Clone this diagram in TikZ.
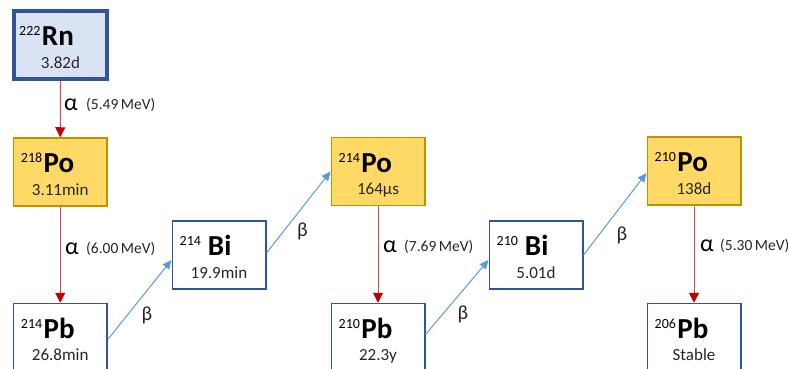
\documentclass[tikz,border=0pt]{standalone}
\usepackage{fontspec}
\setmainfont{Carlito}
\usetikzlibrary{arrows.meta}
\definecolor{boxblue}{HTML}{2F5597}
\definecolor{rnfill}{HTML}{DAE3F3}
\definecolor{pofill}{HTML}{FFD966}
\definecolor{poedge}{HTML}{BF9000}
\definecolor{alphared}{HTML}{C00000}
\definecolor{betablue}{HTML}{5B9BD5}
\tikzset{
  nuclide/.style={draw=boxblue, line width=1.5pt, fill=white, minimum width=93.5pt, minimum height=68pt, inner sep=0pt},
  parent/.style={nuclide, draw=boxblue, fill=rnfill, line width=4pt, minimum width=93pt, minimum height=67.5pt},
  polonium/.style={nuclide, draw=poedge, fill=pofill},
  sym/.style={font=\fontsize{29}{30}\selectfont\bfseries, inner sep=0pt, anchor=base west},
  life/.style={font=\fontsize{17}{18}\selectfont, inner sep=0pt, anchor=base, text=black!85},
  alphaarrow/.style={draw=alphared!70, line width=1pt, -{Triangle[length=10pt,width=10pt,fill=alphared,color=alphared]}},
  betaarrow/.style={draw=betablue, line width=1pt, -{Triangle[length=9pt,width=8pt]}},
  alab/.style={font=\fontsize{24}{26}\selectfont, inner sep=0pt, anchor=base west},
  elab/.style={font=\fontsize{15.5}{16}\selectfont, inner sep=0pt, anchor=base west, text=black!85},
  blab/.style={font=\fontsize{20}{22}\selectfont, inner sep=0pt, text=black!85}
}
% mass number set as a raised small label before the element symbol
\newcommand{\mass}[1]{\raisebox{9.8pt}{\normalfont\fontsize{14}{15}\selectfont #1}}
\begin{document}
\begin{tikzpicture}[x=1pt,y=-1pt]
\useasboundingbox (0,0) rectangle (789,369);
% nuclide boxes
\node[parent]   (rn)    at (60.5,45.25) {};
\node[polonium] (po218) at (60.25,172)  {};
\node[nuclide]  (pb214) at (60.25,337.5){};
\node[nuclide]  (bi214) at (219,255)    {};
\node[polonium] (po214) at (378,171.5)  {};
\node[nuclide]  (pb210) at (378,337.5)  {};
\node[nuclide]  (bi210) at (536,255)    {};
\node[polonium] (po210) at (694,171)    {};
\node[nuclide]  (pb206) at (694,337.5)  {};
% symbols and half-lives
\node[sym] (rnS) at ([xshift=7pt,yshift=0pt]rn.west) {\mass{222}\hspace{1.5pt}Rn};
\node[life] (rnL) at ([yshift=-23pt]rn.center) {3.82d};
\node[sym] (po218S) at ([xshift=8pt,yshift=-0.5pt]po218.west) {\mass{218}\hspace{1.5pt}Po};
\node[life] (po218L) at ([yshift=-23pt]po218.center) {3.11min};
\node[sym] (pb214S) at ([xshift=8pt,yshift=-0.5pt]pb214.west) {\mass{214}\hspace{1.5pt}Pb};
\node[life] (pb214L) at ([yshift=-23pt]pb214.center) {26.8min};
\node[sym] (bi214S) at ([xshift=8pt,yshift=-0.5pt]bi214.west) {\mass{214}\hspace{7pt}Bi};
\node[life] (bi214L) at ([yshift=-23pt]bi214.center) {19.9min};
\node[sym] (po214S) at ([xshift=8pt,yshift=-0.5pt]po214.west) {\mass{214}\hspace{1.5pt}Po};
\node[life] (po214L) at ([yshift=-23pt]po214.center) {164µs};
\node[sym] (pb210S) at ([xshift=8pt,yshift=-0.5pt]pb210.west) {\mass{210}\hspace{1.5pt}Pb};
\node[life] (pb210L) at ([yshift=-23pt]pb210.center) {22.3y};
\node[sym] (bi210S) at ([xshift=8pt,yshift=-0.5pt]bi210.west) {\mass{210}\hspace{7pt}Bi};
\node[life] (bi210L) at ([yshift=-23pt]bi210.center) {5.01d};
\node[sym] (po210S) at ([xshift=8pt,yshift=-0.5pt]po210.west) {\mass{210}\hspace{1.5pt}Po};
\node[life] (po210L) at ([yshift=-23pt]po210.center) {138d};
\node[sym] (pb206S) at ([xshift=8pt,yshift=-0.5pt]pb206.west) {\mass{206}\hspace{1.5pt}Pb};
\node[life] (pb206L) at ([yshift=-23pt]pb206.center) {Stable};
% alpha decays
\draw[alphaarrow] (rn.south) -- (po218.north);
\draw[alphaarrow] (po218.south) -- (pb214.north);
\draw[alphaarrow] (po214.south) -- (pb210.north);
\draw[alphaarrow] (po210.south) -- (pb206.north);
\node[alab] (a1) at (64,110) {α};
\node[elab] (e1) at (86,109) {(5.49\,MeV)};
\node[alab] (a2) at (65,254) {α};
\node[elab] (e2) at (86,253) {(6.00\,MeV)};
\node[alab] (a3) at (383,252) {α};
\node[elab] (e3) at (404,251) {(7.69\,MeV)};
\node[alab] (a4) at (700,251) {α};
\node[elab] (e4) at (720,250) {(5.30\,MeV)};
% beta decays
\coordinate (pb214r) at ([yshift=-2pt]pb214.east);
\coordinate (bi214l) at ([yshift=-5pt]bi214.west);
\coordinate (bi214r) at ([yshift=2pt]bi214.east);
\coordinate (po214l) at ([yshift=0pt]po214.west);
\coordinate (pb210r) at ([yshift=3pt]pb210.east);
\coordinate (bi210l) at ([yshift=-5pt]bi210.west);
\coordinate (bi210r) at ([yshift=0pt]bi210.east);
\coordinate (po210l) at ([yshift=-2pt]po210.west);
\draw[betaarrow] (pb214r) -- (bi214l);
\draw[betaarrow] (bi214r) -- (po214l);
\draw[betaarrow] (pb210r) -- (bi210l);
\draw[betaarrow] (bi210r) -- (po210l);
\node[blab] (b1) at (147,315) {β};
\node[blab] (b2) at (302.5,231) {β};
\node[blab] (b3) at (463,314) {β};
\node[blab] (b4) at (622,235) {β};
\end{tikzpicture}
\end{document}
